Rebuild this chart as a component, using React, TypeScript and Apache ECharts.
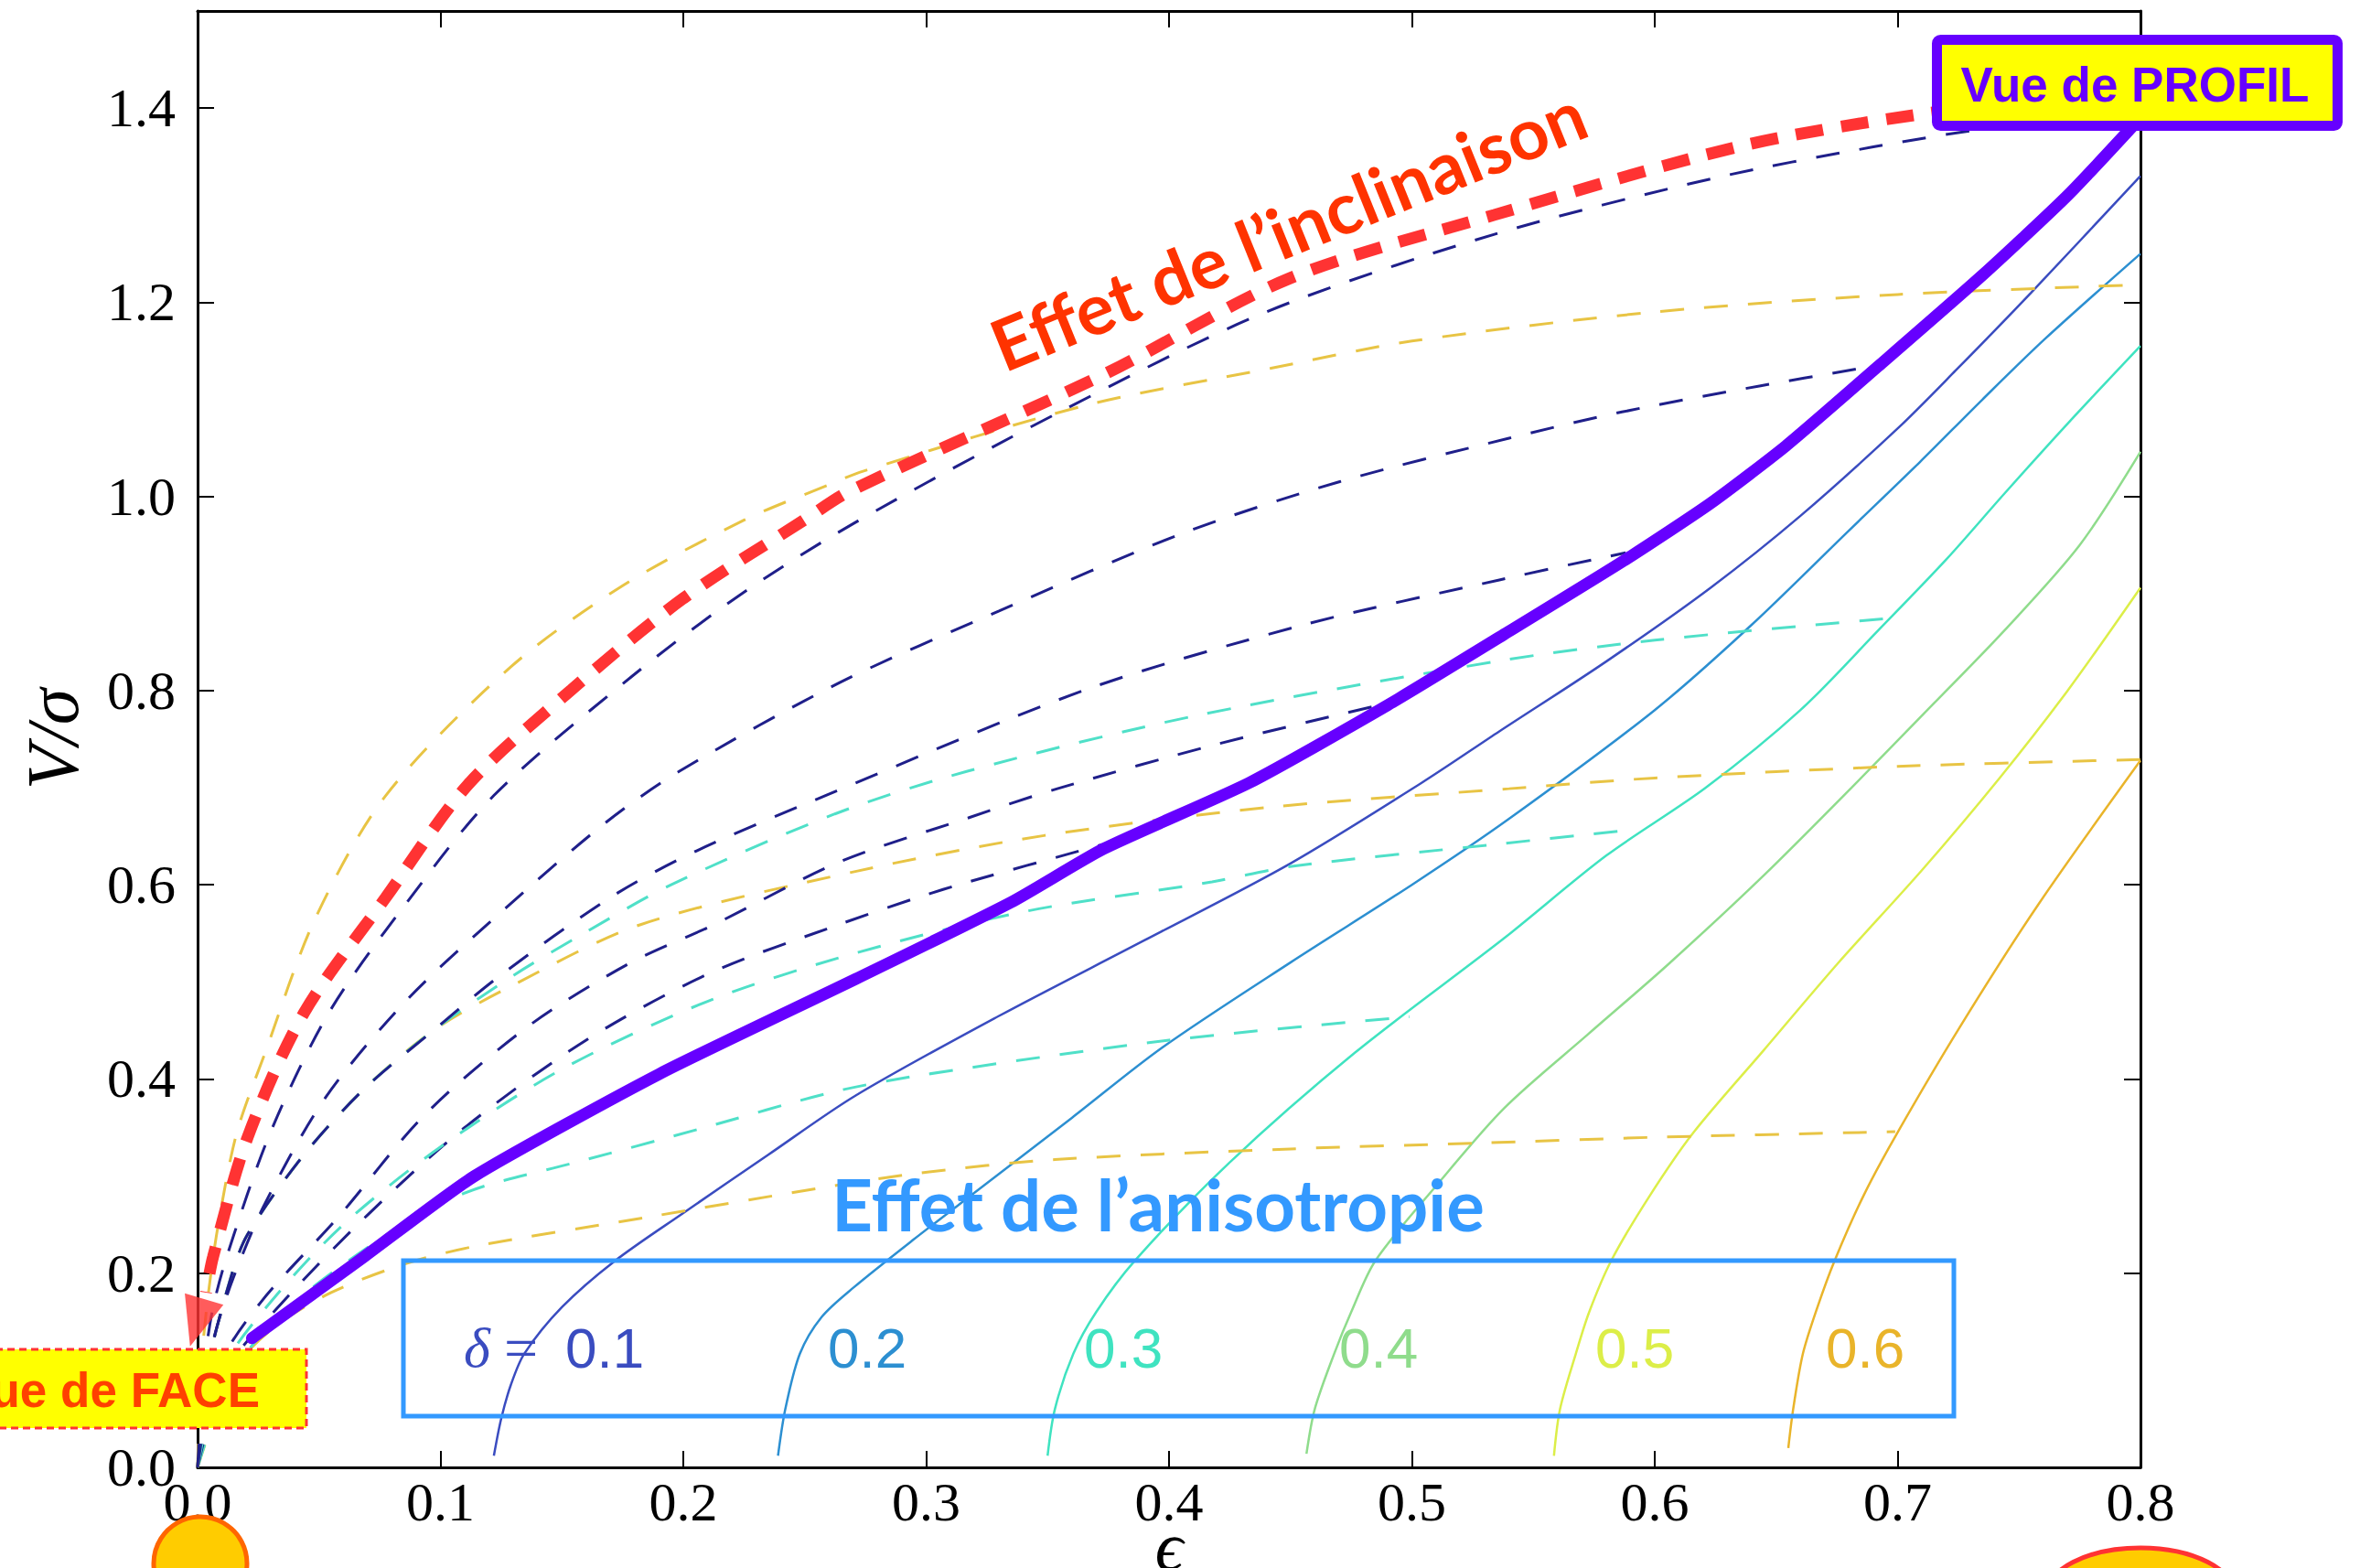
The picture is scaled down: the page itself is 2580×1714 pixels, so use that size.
import React, { useEffect, useRef } from "react";
import * as echarts from "echarts";

// ---------------- data ----------------
const deltaLabels = ["0.1", "0.2", "0.3", "0.4", "0.5", "0.6"];

// edge-on relations, one per anisotropy delta  [epsilon, V/sigma]
const edgeOnDelta01 = [[0.122,0.012],[0.125,0.05],[0.129,0.085],[0.1345,0.117],[0.15,0.165],[0.172,0.213],[0.2,0.262],[0.235,0.322],[0.271,0.383],[0.33,0.465],[0.39,0.543],[0.45,0.622],[0.504,0.705],[0.536,0.758],[0.58,0.83],[0.623,0.906],[0.66,0.98],[0.70,1.07],[0.724,1.13],[0.755,1.21],[0.8,1.33]];
const edgeOnDelta02 = [[0.239,0.012],[0.242,0.06],[0.248,0.117],[0.257,0.155],[0.27,0.185],[0.295,0.235],[0.321,0.285],[0.36,0.36],[0.397,0.432],[0.45,0.52],[0.5,0.6],[0.54,0.668],[0.6,0.78],[0.64,0.868],[0.68,0.965],[0.709,1.035],[0.735,1.1],[0.761,1.163],[0.8,1.25]];
const edgeOnDelta03 = [[0.35,0.012],[0.353,0.06],[0.3606,0.117],[0.37,0.16],[0.386,0.213],[0.4245,0.313],[0.4765,0.427],[0.538,0.545],[0.58,0.63],[0.621,0.70],[0.66,0.78],[0.692,0.862],[0.72,0.935],[0.744,1.003],[0.77,1.075],[0.8,1.155]];
const edgeOnDelta04 = [[0.4566,0.014],[0.46,0.06],[0.468,0.117],[0.475,0.16],[0.485,0.213],[0.51,0.29],[0.538,0.37],[0.5725,0.446],[0.6055,0.518],[0.645,0.61],[0.681,0.7],[0.715,0.787],[0.744,0.862],[0.775,0.95],[0.8,1.046]];
const edgeOnDelta05 = [[0.5585,0.012],[0.561,0.06],[0.5675,0.117],[0.573,0.16],[0.582,0.2125],[0.598,0.28],[0.616,0.345],[0.645,0.43],[0.675,0.518],[0.71,0.615],[0.742,0.71],[0.77,0.8],[0.8,0.906]];
const edgeOnDelta06 = [[0.655,0.02],[0.657,0.06],[0.661,0.117],[0.667,0.165],[0.674,0.2125],[0.686,0.28],[0.70,0.345],[0.726,0.455],[0.758,0.58],[0.8,0.728]];
const edgeOnCurves = [edgeOnDelta01, edgeOnDelta02, edgeOnDelta03, edgeOnDelta04, edgeOnDelta05, edgeOnDelta06];

// thick violet line
const violetLine = [[0.0224,0.133],[0.0686,0.217],[0.114,0.300],[0.19,0.405],[0.271,0.503],[0.335,0.582],[0.373,0.637],[0.433,0.705],[0.49,0.785],[0.538,0.858],[0.588,0.935],[0.623,0.993],[0.654,1.052],[0.692,1.134],[0.735,1.228],[0.77,1.31],[0.8,1.39]];

// inclination tracks (dashed)
const navyTrackA = [[0,0],[0.0026,0.1],[0.006,0.16],[0.012,0.217],[0.03,0.345],[0.054,0.468],[0.085,0.578],[0.122,0.692],[0.179,0.815],[0.223,0.898],[0.27,0.972],[0.355,1.087],[0.44,1.19],[0.534,1.27],[0.623,1.327],[0.69,1.36],[0.74,1.38],[0.8,1.395]];
const yellowTrackB = [[0,0],[0.0014,0.1],[0.004,0.17],[0.0085,0.25],[0.0162,0.345],[0.0278,0.427],[0.0482,0.564],[0.0775,0.692],[0.129,0.8245],[0.1753,0.9085],[0.2251,0.9757],[0.2606,1.0127],[0.274,1.026],[0.366,1.094],[0.442,1.132],[0.5,1.16],[0.6,1.19],[0.7,1.208],[0.8,1.218]];
const navyTrackC = [[0,0],[0.0039,0.1],[0.008,0.145],[0.0153,0.199],[0.0278,0.272],[0.0527,0.381],[0.0864,0.482],[0.1255,0.573],[0.168,0.664],[0.1984,0.717],[0.2642,0.808],[0.33,0.882],[0.4056,0.962],[0.47,1.015],[0.54,1.06],[0.5865,1.087],[0.6436,1.114],[0.685,1.132]];
const navyTrackD = [[0,0],[0.004,0.1],[0.0135,0.194],[0.0206,0.24],[0.0438,0.322],[0.0687,0.39],[0.0971,0.45],[0.1238,0.505],[0.17,0.587],[0.2055,0.635],[0.2606,0.694],[0.3658,0.801],[0.4558,0.868],[0.536,0.914],[0.588,0.942]];
const cyanTrackE = [[0,0],[0.004,0.1],[0.0135,0.194],[0.0206,0.24],[0.0438,0.322],[0.0687,0.39],[0.0971,0.45],[0.129,0.505],[0.159,0.55],[0.195,0.60],[0.2624,0.673],[0.317,0.717],[0.4107,0.774],[0.537,0.831],[0.6,0.852],[0.699,0.875]];
const navyTrackF = [[0,0],[0.008,0.1],[0.026,0.17],[0.058,0.258],[0.0935,0.363],[0.136,0.454],[0.177,0.518],[0.2126,0.559],[0.2642,0.6234],[0.3174,0.669],[0.354,0.699],[0.42,0.745],[0.49,0.787]];
const yellowTrackG = [[0,0],[0.004,0.1],[0.0135,0.194],[0.0206,0.24],[0.0438,0.322],[0.0687,0.39],[0.0971,0.45],[0.129,0.4955],[0.1824,0.559],[0.2713,0.614],[0.3485,0.6507],[0.4419,0.68],[0.54,0.699],[0.6,0.71],[0.7,0.722],[0.8,0.729]];
const cyanTrackH = [[0,0],[0.01,0.1],[0.03,0.17],[0.06,0.25],[0.1,0.33],[0.15,0.41],[0.21,0.48],[0.2713,0.53],[0.3416,0.573],[0.4177,0.603],[0.4505,0.619],[0.5335,0.6415],[0.592,0.657]];
const navyTrackK = [[0,0],[0.012,0.1],[0.035,0.17],[0.07,0.26],[0.11,0.35],[0.16,0.44],[0.2109,0.509],[0.264,0.559],[0.2966,0.587],[0.3174,0.603],[0.3727,0.6415]];
const cyanTrackI = [[0,0],[0.015,0.1],[0.04,0.17],[0.075,0.235],[0.1006,0.272],[0.1184,0.29],[0.154,0.313],[0.2073,0.349],[0.2606,0.386],[0.298,0.404],[0.4,0.44],[0.499,0.464]];
const yellowTrackJ = [[0,0],[0.015,0.1],[0.0313,0.144],[0.055,0.18],[0.086,0.21],[0.1149,0.228],[0.186,0.258],[0.257,0.288],[0.2966,0.303],[0.353,0.317],[0.45,0.328],[0.528,0.334],[0.6,0.34],[0.699,0.3457]];

// hand-drawn red arrow ("Effet de l'inclinaison")
const redArrow = [[0.8,1.42],[0.7077,1.393],[0.634,1.36],[0.534,1.29],[0.45,1.225],[0.3727,1.125],[0.269,1.006],[0.25,0.976],[0.2,0.895],[0.154,0.801],[0.1113,0.703],[0.0775,0.587],[0.0438,0.468],[0.0206,0.34],[0.0064,0.217],[0.0035,0.18]];
const redArrowTip = [[-0.0002, 0.149]];

// ---------------- styles ----------------
const deltaColors = ["#3a4cc0", "#2c8fd1", "#3fe3c0", "#8fdc8c", "#dcee48", "#e9b42a"];
const NAVY = "#1f1f8a";
const CYAN = "#4fe0c8";
const YELLOW = "#e8c444";
const VIOLET = "#6600ff";
const RED = "#ff3333";

const tracks = [
  { data: yellowTrackJ, color: YELLOW },
  { data: cyanTrackI, color: CYAN },
  { data: navyTrackK, color: NAVY },
  { data: cyanTrackH, color: CYAN },
  { data: yellowTrackG, color: YELLOW },
  { data: navyTrackF, color: NAVY },
  { data: cyanTrackE, color: CYAN },
  { data: navyTrackD, color: NAVY },
  { data: navyTrackC, color: NAVY },
  { data: yellowTrackB, color: YELLOW },
  { data: navyTrackA, color: NAVY },
];

const legendX = [618, 905, 1185, 1464, 1744, 1996];

const SERIF = "'Liberation Serif', 'DejaVu Serif', serif";
const SANS = "'Liberation Sans', Arial, sans-serif";
const CAL = "Lato, 'Open Sans', sans-serif";

export default function App() {
  const ref = useRef<HTMLDivElement>(null);
  useEffect(() => {
    if (!ref.current) return;
    const chart = echarts.init(ref.current, null, { renderer: "svg" });
    const axisLine = { show: true, onZero: false, lineStyle: { color: "#000", width: 3 } };
    const axisTick = { show: true, inside: true, length: 18, lineStyle: { color: "#000", width: 2 } };
    const fmt = (v: number) => v.toFixed(1);

    const series: any[] = [];
    edgeOnCurves.forEach((d, i) => {
      series.push({
        type: "line", data: d, showSymbol: false, smooth: 0.3, silent: true, z: 2,
        lineStyle: { color: deltaColors[i], width: 2.5 },
      });
    });
    tracks.forEach((t) => {
      series.push({
        type: "line", data: t.data, showSymbol: false, smooth: 0.3, silent: true, z: 3,
        lineStyle: { color: t.color, width: 3, type: [26, 22] },
      });
    });
    series.push({
      type: "line", data: violetLine, showSymbol: false, smooth: 0.2, silent: true, z: 5,
      lineStyle: { color: VIOLET, width: 13, cap: "round" },
    });
    series.push({
      type: "line", data: redArrow, showSymbol: false, smooth: 0.3, silent: true, z: 6, clip: false,
      lineStyle: { color: RED, width: 13, type: [30, 20] },
    });
    series.push({
      type: "scatter", data: redArrowTip, symbol: "triangle", symbolSize: [44, 54], symbolRotate: 163.5,
      silent: true, z: 7, clip: false, itemStyle: { color: RED },
    });

    const graphics: any[] = [];
    // legend box
    graphics.push({ type: "rect", z: 100, shape: { x: 441, y: 1378, width: 1695, height: 170 }, style: { fill: "none", stroke: "#3399ff", lineWidth: 5 } });
    graphics.push({ type: "text", z: 101, x: 507, y: 1473, style: { text: "δ", font: `italic 62px ${SERIF}`, fill: deltaColors[0], verticalAlign: "middle" } });
    graphics.push({ type: "text", z: 101, x: 551, y: 1473, style: { text: "=", font: `66px ${SERIF}`, fill: deltaColors[0], verticalAlign: "middle" } });
    deltaLabels.forEach((lab, i) => {
      graphics.push({ type: "text", z: 101, x: legendX[i], y: 1473, style: { text: lab, font: `62px ${SANS}`, fill: deltaColors[i], verticalAlign: "middle" } });
    });
    // annotations
    graphics.push({ type: "text", z: 110, x: 1266, y: 1316, style: { text: "Effet de l’anisotropie", font: `bold 78px ${CAL}`, fill: "#3399ff", align: "center", verticalAlign: "middle" } });
    graphics.push({ type: "text", z: 110, x: 1408, y: 250, rotation: (22 * Math.PI) / 180, originX: 0, originY: 0, style: { text: "Effet de l’inclinaison", font: `bold 78px ${CAL}`, fill: "#ff3300", align: "center", verticalAlign: "middle" } });
    // Vue de PROFIL
    graphics.push({ type: "rect", z: 120, shape: { x: 2117.5, y: 43.5, width: 438, height: 94, r: 4 }, style: { fill: "#ffff00", stroke: VIOLET, lineWidth: 11 } });
    graphics.push({ type: "text", z: 121, x: 2334, y: 92, style: { text: "Vue de PROFIL", font: `bold 53px ${SANS}`, fill: VIOLET, align: "center", verticalAlign: "middle" } });
    // Vue de FACE
    graphics.push({ type: "rect", z: 120, shape: { x: -5, y: 1475, width: 340, height: 86 }, style: { fill: "#ffff00", stroke: RED, lineWidth: 3, lineDash: [8, 5] } });
    graphics.push({ type: "text", z: 121, x: 284, y: 1519, style: { text: "Vue de FACE", font: `bold 53px ${SANS}`, fill: "#ff4000", align: "right", verticalAlign: "middle" } });
    // bottom ornaments
    graphics.push({ type: "circle", z: 90, shape: { cx: 219, cy: 1709, r: 51 }, style: { fill: "#ffcc00", stroke: "#ff6600", lineWidth: 5 } });
    graphics.push({ type: "ellipse", z: 90, shape: { cx: 2340, cy: 1745, rx: 104, ry: 53 }, style: { fill: "#ffcc00", stroke: RED, lineWidth: 5 } });

    chart.setOption({
      animation: false,
      backgroundColor: "#ffffff",
      grid: { left: 216, right: 240, top: 12, bottom: 110, containLabel: false, outerBoundsMode: "none" },
      xAxis: [
        {
          type: "value", min: 0, max: 0.8, interval: 0.1, position: "bottom",
          axisLine, axisTick, splitLine: { show: false },
          axisLabel: { formatter: fmt, fontFamily: SERIF, fontSize: 60, color: "#000", margin: 8 },
          name: "ϵ", nameLocation: "middle", nameGap: 48, nameMoveOverlap: false,
          nameTextStyle: { fontFamily: SERIF, fontStyle: "italic", fontSize: 76, color: "#000", verticalAlign: "top" },
        },
        {
          type: "value", min: 0, max: 0.8, interval: 0.1, position: "top",
          axisLine, axisTick, splitLine: { show: false }, axisLabel: { show: false },
        },
      ],
      yAxis: [
        {
          type: "value", min: 0, max: 1.5, interval: 0.2, position: "left",
          axisLine, axisTick, splitLine: { show: false },
          axisLabel: { formatter: fmt, fontFamily: SERIF, fontSize: 60, color: "#000", margin: 24, showMaxLabel: false },
          name: "V/σ", nameLocation: "middle", nameGap: 118, nameRotate: 90,
          nameTextStyle: { fontFamily: SERIF, fontStyle: "italic", fontSize: 80, color: "#000" },
        },
        {
          type: "value", min: 0, max: 1.5, interval: 0.2, position: "right",
          axisLine, axisTick, splitLine: { show: false }, axisLabel: { show: false },
        },
      ],
      series,
      graphic: graphics,
    });
    return () => chart.dispose();
  }, []);
  return <div ref={ref} style={{ position: "fixed", left: 0, top: 0, width: 2580, height: 1714, background: "#fff" }} />;
}
